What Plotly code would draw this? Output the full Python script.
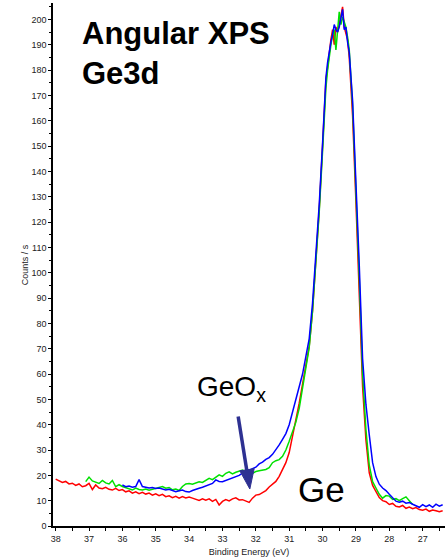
import plotly.graph_objects as go

# Binding energy grid (eV)
be = [38.0, 37.9, 37.8, 37.7, 37.6, 37.5, 37.4, 37.3, 37.2, 37.1,
      37.0, 36.9, 36.8, 36.7, 36.6, 36.5, 36.4, 36.3, 36.2, 36.1,
      36.0, 35.9, 35.8, 35.7, 35.6, 35.5, 35.4, 35.3, 35.2, 35.1,
      35.0, 34.9, 34.8, 34.7, 34.6, 34.5, 34.4, 34.3, 34.2, 34.1,
      34.0, 33.9, 33.8, 33.7, 33.6, 33.5, 33.4, 33.3, 33.2, 33.1,
      33.0, 32.9, 32.8, 32.7, 32.6, 32.5, 32.4, 32.3, 32.2, 32.1,
      32.0, 31.9, 31.8, 31.7, 31.6, 31.5, 31.4, 31.3, 31.2, 31.1,
      31.0, 30.9, 30.8, 30.7, 30.6, 30.5, 30.4, 30.3, 30.2, 30.1,
      30.0, 29.95, 29.9, 29.85, 29.8, 29.75, 29.7, 29.65, 29.6, 29.55,
      29.5, 29.45, 29.4, 29.35, 29.3, 29.25, 29.2, 29.1, 29.0, 28.9,
      28.8, 28.7, 28.6, 28.5, 28.4, 28.3, 28.2, 28.1, 28.0, 27.9,
      27.8, 27.7, 27.6, 27.5, 27.4, 27.3, 27.2, 27.1, 27.0, 26.9,
      26.8, 26.7, 26.6, 26.5, 26.4]

counts_red = [18.5, 18.0, 17.2, 17.6, 16.6, 16.9, 16.0, 16.6, 15.5, 15.9,
              16.8, 14.4, 16.2, 15.0, 14.7, 15.3, 14.5, 14.2, 14.9, 14.0,
              14.4, 13.5, 13.9, 13.0, 13.5, 12.8, 13.3, 12.6, 13.0, 12.2,
              12.7, 12.0, 12.5, 11.6, 11.9, 11.2, 11.7, 11.0, 11.6, 11.1,
              11.4, 11.0, 10.7, 10.1, 10.7, 10.2, 10.7, 9.7, 10.5, 8.3,
              9.7, 10.4, 9.9, 10.7, 11.1, 10.3, 10.4, 9.9, 9.3, 11.0,
              12.2, 12.4, 13.1, 14.0, 15.4, 16.6, 17.6, 19.6, 22.0, 25.0,
              29.0, 35.0, 42.0, 48.5, 56.0, 63.5, 71.0, 85.0, 103.0, 125.0,
              150.0, 163, 176, 181, 187, 192, 196, 190, 197, 195,
              198, 202, 205, 197, 194, 192, 185, 162, 128, 92,
              55, 34, 21, 16, 13.5, 11.2, 10.0, 9.6, 8.5, 8.9,
              7.8, 7.5, 8.1, 7.0, 7.5, 6.8, 7.3, 6.5, 6.2, 6.7,
              5.8, 6.3, 6.0, 5.6, 6.0]

counts_green = [None, None, None, None, None, None, None, None, None, 17.5,
                19.3, 17.8, 17.2, 16.8, 18.0, 17.0, 16.6, 18.0, 15.5, 16.3,
                15.6, 15.2, 14.8, 14.2, 15.0, 14.4, 14.2, 14.6, 14.1, 14.5,
                14.8, 15.0, 15.6, 14.9, 15.2, 14.3, 14.6, 14.0, 15.6, 16.6,
                16.8, 16.5, 17.0, 17.5, 17.2, 18.0, 18.8, 18.3, 19.4, 20.2,
                19.6, 20.8, 21.4, 20.6, 21.2, 21.8, 22.1, 21.2, 21.6, 20.8,
                21.5, 21.8, 22.0, 22.3, 23.0, 25.0, 25.8, 26.2, 27.5, 30.0,
                33.5, 37.0, 41.0, 46.5, 55.0, 63.0, 70.5, 85.0, 103.0, 124.0,
                148.0, 161, 173, 180, 186, 190, 194, 196, 188, 196,
                203, 198, 201, 199, 197, 193, 188, 166, 134, 98,
                60, 38, 24, 17.5, 15.0, 12.5, 11.0, 12.0, 11.8, 10.5,
                10.8, 10.0, 10.8, 11.5, 10.0, 8.5, None, None, None, None,
                None, None, None, None, None]

counts_blue = [None, None, None, None, None, None, None, None, None, None,
               None, None, None, None, None, None, None, None, None, None,
               16.2, 15.5, 15.8, 15.3, 15.6, 18.3, 15.6, 15.4, 15.0, 15.2,
               14.8, 15.0, 14.6, 14.2, 14.5, 14.0, 13.5, 13.9, 14.2, 13.6,
               13.4, 14.0, 14.6, 14.9, 15.3, 15.8, 16.2, 16.8, 18.2, 17.6,
               17.5, 18.0, 18.6, 18.9, 19.3, 20.0, 20.9, 21.5, 22.0, 22.6,
               23.2, 24.5, 25.2, 26.3, 27.0, 28.3, 30.0, 32.0, 34.2, 36.5,
               40.0, 45.0, 49.5, 55.5, 60.0, 67.0, 74.0, 88.0, 106.0, 127.0,
               151.0, 164, 177, 183, 188, 191, 194, 198, 196, 195,
               197, 200, 204, 196, 197, 191, 187, 168, 138, 103,
               66, 48, 36, 25, 19.5, 16.5, 15.0, 14.0, 12.5, 11.0,
               9.8, 9.4, 9.8, 9.0, 9.3, 8.6, 8.0, 7.4, 8.4, 7.6,
               8.3, 7.4, 8.6, 7.8, 8.4]

series_names = ["red", "green", "blue"]
series_colors = ["#ff0000", "#00e000", "#0000ff"]
series_values = [counts_red, counts_green, counts_blue]

FONT = "Liberation Sans, Arial, sans-serif"
ARROW = "#2e3192"

fig = go.Figure()
for name, col, vals in zip(series_names, series_colors, series_values):
    fig.add_trace(go.Scatter(x=be, y=vals, mode="lines", name=name,
                             line=dict(color=col, width=1.5),
                             connectgaps=False, showlegend=False))

fig.update_layout(
    width=445, height=560,
    margin=dict(l=53, r=0, t=3, b=34),
    paper_bgcolor="white", plot_bgcolor="white",
    font=dict(family=FONT, size=9, color="#222"),
    xaxis=dict(range=[38.08, 26.33], dtick=1, tick0=38,
               showline=True, linecolor="black", linewidth=1.5,
               ticks="outside", ticklen=3, tickcolor="black", tickwidth=1,
               minor=dict(dtick=0.5, ticks="outside", ticklen=3, tickcolor="black"),
               showgrid=False, zeroline=False,
               tickfont=dict(size=9, color="#222"),
               title=dict(text="Binding Energy (eV)", font=dict(size=9, color="#222"), standoff=6)),
    yaxis=dict(range=[0, 206.5], dtick=10, tick0=0,
               showline=True, linecolor="black", linewidth=1.5,
               ticks="outside", ticklen=3, tickcolor="black", tickwidth=1,
               minor=dict(dtick=5, ticks="outside", ticklen=2, tickcolor="black"),
               showgrid=False, zeroline=False,
               tickfont=dict(size=9, color="#222")),
)

# y-axis title placed left of the tick labels
fig.add_annotation(xref="paper", yref="paper", x=-0.072, y=0.5,
                   xanchor="center", yanchor="middle", showarrow=False,
                   textangle=-90, text="Counts / s",
                   font=dict(family=FONT, size=9, color="#222"))

fig.add_annotation(xref="paper", yref="paper", x=0.068, y=0.941,
                   xanchor="left", yanchor="middle", showarrow=False,
                   text="<b>Angular XPS</b>", font=dict(family=FONT, size=31, color="black"))
fig.add_annotation(xref="paper", yref="paper", x=0.068, y=0.866,
                   xanchor="left", yanchor="middle", showarrow=False,
                   text="<b>Ge3d</b>", font=dict(family=FONT, size=31, color="black"))
fig.add_annotation(xref="paper", yref="paper", x=0.362, y=0.262,
                   xanchor="left", yanchor="middle", showarrow=False,
                   text="GeO<sub>x</sub>", font=dict(family=FONT, size=28, color="black"))
fig.add_annotation(xref="paper", yref="paper", x=0.62, y=0.069,
                   xanchor="left", yanchor="middle", showarrow=False,
                   text="Ge", font=dict(family=FONT, size=35, color="black"))

# arrow pointing to the GeOx shoulder: shaft + filled head
fig.add_shape(type="line", xref="x", yref="y", x0=32.53, y0=43.2, x1=32.26, y1=21.0,
              line=dict(color=ARROW, width=3.5))
fig.add_shape(type="path", xref="x", yref="y",
              path="M 32.05 22.6 L 32.48 21.8 L 32.18 14.6 Z",
              fillcolor=ARROW, line=dict(color=ARROW, width=1))

fig.write_html("out.html")
